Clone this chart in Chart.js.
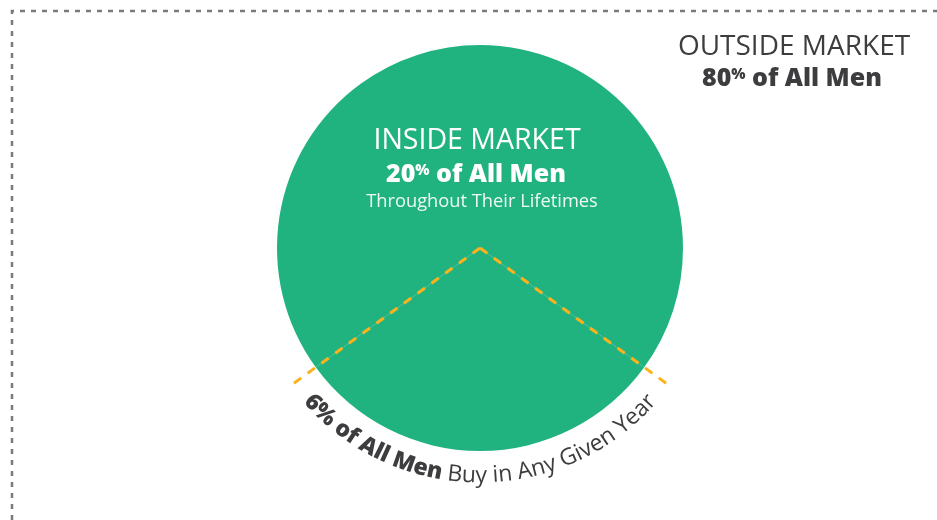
<!DOCTYPE html>
<html>
<head>
<meta charset="utf-8">
<script src="https://cdn.jsdelivr.net/npm/chart.js@4.4.1/dist/chart.umd.min.js"></script>
<style>
html, body { margin: 0; padding: 0; background: #ffffff; }
#wrap { width: 937px; height: 520px; }
</style>
</head>
<body>
<div id="wrap"><canvas id="marketCanvas" width="937" height="520"></canvas></div>
<script>
// ------------------------------ DATA ------------------------------
// share of all men (percent)
var sliceLabels = ["Buy in Any Given Year", "Inside Market, Not Buying"];
var sliceValues = [6, 14];
var insideShare = 20;
var outsideShare = 80;
var buyShare = 6;
// ------------------------------ STYLE ------------------------------
var green = "#21b37f";
var dashOrange = "#fbb21c";
var darkText = "#3d3d40";
var borderGrey = "#7b7b7b";
var fontFamily = "'Open Sans', 'Noto Sans', sans-serif";

// centre the buying wedge at the bottom of the circle
var wedgeDeg = sliceValues[0] / (sliceValues[0] + sliceValues[1]) * 360;
var pieRotation = 180 - wedgeDeg / 2;

// text with a small raised "%" after the number, centred on x
function drawPctLine(ctx, num, rest, x, y, size, color) {
    var smallSize = Math.round(size * 0.6);
    var big = "800 " + size + "px " + fontFamily;
    var small = "800 " + smallSize + "px " + fontFamily;
    ctx.font = big;
    var w1 = ctx.measureText(num).width;
    var w3 = ctx.measureText(rest).width;
    ctx.font = small;
    var w2 = ctx.measureText("%").width;
    var left = x - (w1 + w2 + w3) / 2;
    ctx.fillStyle = color;
    ctx.textAlign = "left";
    ctx.textBaseline = "alphabetic";
    ctx.font = big;
    ctx.fillText(num, left, y);
    ctx.font = small;
    ctx.fillText("%", left + w1, y - 0.714 * (size - smallSize));
    ctx.font = big;
    ctx.fillText(rest, left + w1 + w2, y);
}

function drawCentered(ctx, text, x, y, font, color) {
    ctx.font = font;
    ctx.fillStyle = color;
    ctx.textAlign = "center";
    ctx.textBaseline = "alphabetic";
    ctx.fillText(text, x, y);
}

// dotted frame on top and left
var framePlugin = {
    id: "frame",
    beforeDraw: function (chart) {
        var ctx = chart.ctx;
        ctx.save();
        ctx.strokeStyle = borderGrey;
        ctx.lineWidth = 2.5;
        ctx.setLineDash([5, 6]);
        ctx.beginPath();
        ctx.moveTo(12, 520);
        ctx.lineTo(12, 11);
        ctx.lineTo(937, 11);
        ctx.stroke();
        ctx.restore();
    }
};

// dashed wedge edges + all labels
var labelPlugin = {
    id: "labels",
    afterDraw: function (chart) {
        var ctx = chart.ctx;
        var arc = chart.getDatasetMeta(0).data[0];
        var p = arc.getProps(["x", "y", "startAngle", "endAngle", "outerRadius"], true);
        var cx = p.x, cy = p.y, r = p.outerRadius;

        // wedge edges
        ctx.save();
        ctx.strokeStyle = dashOrange;
        ctx.lineWidth = 3;
        ctx.setLineDash([9, 8]);
        [p.startAngle, p.endAngle].forEach(function (a) {
            ctx.beginPath();
            ctx.moveTo(cx, cy);
            ctx.lineTo(cx + r * 1.17 * Math.cos(a), cy + r * 1.17 * Math.sin(a));
            ctx.stroke();
        });
        ctx.restore();

        ctx.save();
        // inside labels
        drawCentered(ctx, "INSIDE MARKET", cx - 3, cy - 99, "28.5px " + fontFamily, "#ffffff");
        drawPctLine(ctx, String(insideShare), " of All Men", cx - 4, cy - 66, 25, "#ffffff");
        drawCentered(ctx, "Throughout Their Lifetimes", cx + 2, cy - 41, "18.3px " + fontFamily, "rgba(255,255,255,0.92)");

        // outside labels
        drawCentered(ctx, "OUTSIDE MARKET", 794, 55, "28px " + fontFamily, darkText);
        drawPctLine(ctx, String(outsideShare), " of All Men", 792, 86, 25, darkText);

        // curved text under the wedge
        var segs = [
            { text: buyShare + "% of All Men ", font: "800 23px " + fontFamily },
            { text: "Buy in Any Given Year", font: "23px " + fontFamily }
        ];
        var rb = r * 1.155;
        var total = 0;
        segs.forEach(function (s) {
            ctx.font = s.font;
            s.chars = s.text.split("").map(function (ch) {
                var w = ctx.measureText(ch).width;
                total += w;
                return { ch: ch, w: w };
            });
        });
        var mid = (p.startAngle + p.endAngle) / 2;
        var ang = mid + total / rb / 2;
        ctx.fillStyle = darkText;
        ctx.textAlign = "center";
        ctx.textBaseline = "alphabetic";
        segs.forEach(function (s) {
            ctx.font = s.font;
            s.chars.forEach(function (c) {
                var a = ang - c.w / 2 / rb;
                ctx.save();
                ctx.translate(cx + rb * Math.cos(a), cy + rb * Math.sin(a));
                ctx.rotate(a - Math.PI / 2);
                ctx.fillText(c.ch, 0, 0);
                ctx.restore();
                ang -= c.w / rb;
            });
        });
        ctx.restore();
    }
};

var marketChart = new Chart(document.getElementById("marketCanvas").getContext("2d"), {
    type: "pie",
    data: {
        labels: sliceLabels,
        datasets: [{
            data: sliceValues,
            backgroundColor: [green, green],
            borderWidth: 0,
            hoverOffset: 0
        }]
    },
    options: {
        responsive: false,
        animation: false,
        rotation: pieRotation,
        layout: {
            padding: { top: 45, bottom: 69, left: 277, right: 254 }
        },
        plugins: {
            legend: { display: false },
            tooltip: { enabled: false }
        },
        events: []
    },
    plugins: [framePlugin, labelPlugin]
});
</script>
</body>
</html>
